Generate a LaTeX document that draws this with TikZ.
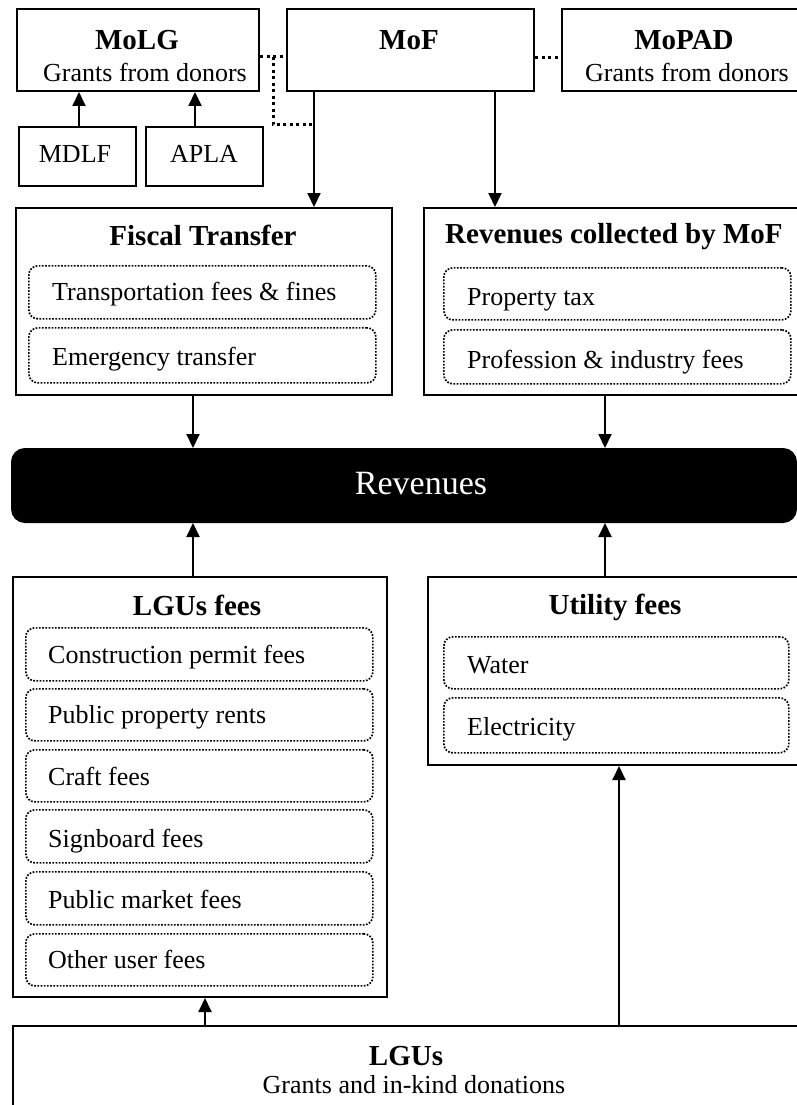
\documentclass[tikz,border=0pt]{standalone}
\usepackage{fontspec}
\setmainfont{Liberation Serif}
\usetikzlibrary{arrows.meta}
\begin{document}
\begin{tikzpicture}[x=1pt,y=-1pt,
  box/.style={draw, line width=2pt, fill=white, inner sep=0pt, anchor=north west},
  item/.style={draw, line width=1.7pt, dash pattern=on 1.7pt off 1.5pt, rounded corners=9pt, inner sep=0pt, anchor=north west, minimum width=347pt},
  arr/.style={line width=2pt, -{Triangle[length=14pt,width=13pt]}},
  link/.style={line width=3pt, dash pattern=on 3pt off 3.5pt},
  ttl/.style={font=\fontsize{29}{32}\selectfont\bfseries, inner sep=0pt, anchor=base},
  txt/.style={font=\fontsize{26}{30}\selectfont, inner sep=0pt, anchor=base west},
  ctxt/.style={font=\fontsize{26}{30}\selectfont, inner sep=0pt, anchor=base},
]
\useasboundingbox (0,0) rectangle (797,1105);
\clip (0,0) rectangle (797,1105);
\fill[white] (0,0) rectangle (797,1105);

% ministries
\node[box, minimum width=242pt, minimum height=82pt] (molg) at (16,8) {};
\node[box, minimum width=247pt, minimum height=82pt] (mof) at (286,8) {};
\node[box, minimum width=260pt, minimum height=82pt] (mopad) at (561,8) {};
\node[ttl] (molgT) at (137,50) {MoLG};
\node[ctxt] (molgS) at (145,82) {Grants from donors};
\node[ttl] (mofT) at (409,50) {MoF};
\node[ttl] (mopadT) at (684,50) {MoPAD};
\node[ctxt] (mopadS) at (687,82) {Grants from donors};

% donors of MoLG
\node[box, minimum width=117pt, minimum height=59pt] (mdlf) at (18,126) {};
\node[box, minimum width=117pt, minimum height=59pt] (apla) at (145,126) {};
\node[ctxt] (mdlfT) at (75,162) {MDLF};
\node[ctxt] (aplaT) at (204,162) {APLA};

% fiscal transfer
\node[box, minimum width=376pt, minimum height=187pt] (fiscal) at (15,207) {};
\node[ttl] (fiscalT) at (203,245) {Fiscal Transfer};
\node[item, minimum height=53pt] (ft1) at (28,265) {};
\node[item, minimum height=55pt] (ft2) at (28,327) {};
\node[txt] (ft1T) at (52,300) {Transportation fees \& fines};
\node[txt] (ft2T) at (52,365) {Emergency transfer};

% revenues collected by MoF
\node[box, minimum width=400pt, minimum height=187pt] (revmof) at (423,207) {};
\node[ttl, anchor=base west] (revmofT) at (445,243) {Revenues collected by MoF};
\node[item, minimum height=52pt] (rm1) at (443,267) {};
\node[item, minimum height=54pt] (rm2) at (443,329) {};
\node[txt] (rm1T) at (467,305) {Property tax};
\node[txt] (rm2T) at (467,368) {Profession \& industry fees};

% revenues bar
\node[box, fill=black, rounded corners=13pt, minimum width=784pt, minimum height=73pt] (rev) at (11,448) {};
\node[font=\fontsize{34}{36}\selectfont, text=white, inner sep=0pt] (revT) at (421,484) {Revenues};

% LGUs fees
\node[box, minimum width=374pt, minimum height=420pt] (lfees) at (12,576) {};
\node[ttl] (lfeesT) at (197,615) {LGUs fees};
\node[item, minimum height=53pt] (lf1) at (25,627) {};
\node[item, minimum height=52pt] (lf2) at (25,688) {};
\node[item, minimum height=52pt] (lf3) at (25,749) {};
\node[item, minimum height=53pt] (lf4) at (25,809) {};
\node[item, minimum height=53pt] (lf5) at (25,871) {};
\node[item, minimum height=52pt] (lf6) at (25,933) {};
\node[txt] (lf1T) at (48,663) {Construction permit fees};
\node[txt] (lf2T) at (48,723) {Public property rents};
\node[txt] (lf3T) at (48,785) {Craft fees};
\node[txt] (lf4T) at (48,847) {Signboard fees};
\node[txt] (lf5T) at (48,908) {Public market fees};
\node[txt] (lf6T) at (48,968) {Other user fees};

% utility fees
\node[box, minimum width=400pt, minimum height=188pt] (util) at (427,576) {};
\node[ttl] (utilT) at (615,614) {Utility fees};
\node[item, minimum height=52pt, minimum width=345pt] (u1) at (443,636) {};
\node[item, minimum height=55pt, minimum width=345pt] (u2) at (443,697) {};
\node[txt] (u1T) at (467,673) {Water};
\node[txt] (u2T) at (467,735) {Electricity};

% LGUs
\node[box, minimum width=810pt, minimum height=120pt] (lgus) at (12,1025) {};
\node[ttl] (lgusT) at (406,1065) {LGUs};
\node[ctxt] (lgusS) at (414,1093) {Grants and in-kind donations};

% column positions of the vertical connectors
\coordinate (xa) at (79,0);
\coordinate (xb) at (195,0);
\coordinate (xc) at (314,0);
\coordinate (xd) at (495,0);
\coordinate (xl) at (193,0);
\coordinate (xr) at (605,0);
\coordinate (xs) at (205,0);
\coordinate (xu) at (619,0);

% connectors
\draw[arr] (xa |- mdlf.north) -- (xa |- molg.south);
\draw[arr] (xb |- apla.north) -- (xb |- molg.south);
\draw[arr] (xc |- mof.south) -- (xc |- fiscal.north);
\draw[arr] (xd |- mof.south) -- (xd |- revmof.north);
\draw[arr] (xl |- fiscal.south) -- (xl |- rev.north);
\draw[arr] (xr |- revmof.south) -- (xr |- rev.north);
\draw[arr] (xl |- lfees.north) -- (xl |- rev.south);
\draw[arr] (xr |- util.north) -- (xr |- rev.south);
\draw[arr] (xs |- lgus.north) -- (xs |- lfees.south);
\draw[arr] (xu |- lgus.north) -- (xu |- util.south);

% dotted links between ministries
\coordinate (kt) at (273,57);
\coordinate (kb) at (273,125);
\draw[link] (molg.east |- kt) -- (mof.west |- kt);
\draw[link] (kt) -- (kb) -- (xc |- kb);
\draw[link] ([yshift=-8pt]mof.east) -- ([yshift=-8pt]mof.east -| mopad.west);
\end{tikzpicture}
\end{document}
